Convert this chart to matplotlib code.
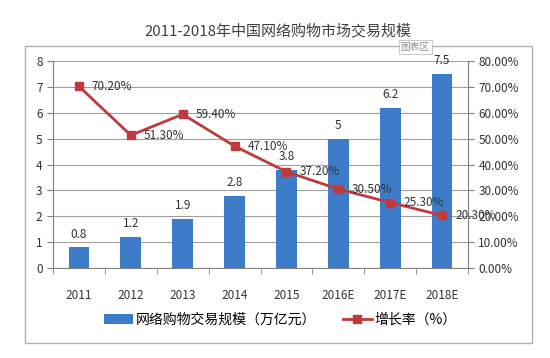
import numpy as np
import matplotlib.pyplot as plt
from matplotlib.patches import Rectangle

plt.rcParams['font.family'] = ['Noto Sans CJK SC', 'DejaVu Sans']

years = ['2011', '2012', '2013', '2014', '2015', '2016E', '2017E', '2018E']
scale = [0.8, 1.2, 1.9, 2.8, 3.8, 5, 6.2, 7.5]          # 万亿元
growth = [70.2, 51.3, 59.4, 47.1, 37.2, 30.5, 25.3, 20.3]  # %

fig = plt.figure(figsize=(5.5, 3.58), dpi=100)
ax = fig.add_axes([0.0964, 0.2514, 0.7545, 0.5782])
x = np.arange(len(years))

bar_color = '#3d7cc9'
line_color = '#c0393b'
txt = '#333333'

ax.set_axisbelow(True)
ax.grid(axis='y', color='#a0a0a0', linewidth=0.8)
ax.bar(x, scale, width=0.4, color=bar_color, label='网络购物交易规模（万亿元）', zorder=2)
for xi, v in zip(x, scale):
    ax.text(xi, v + 0.25, f'{v:g}', ha='center', va='bottom', fontsize=8.5, color=txt)

ax.set_xlim(-0.5, len(years) - 0.5)
ax.set_ylim(0, 8)
ax.set_yticks(range(0, 9))
ax.set_xticks(x)
ax.set_xticklabels(years)
ax.set_xticks(np.arange(-0.5, len(years)), minor=True)
ax.tick_params(axis='x', which='major', length=0, pad=15)
ax.tick_params(axis='x', which='minor', length=4, color='#808080')
ax.tick_params(axis='y', length=4, color='#808080')
ax.tick_params(labelsize=8.5, labelcolor=txt)
for s in ['top', 'right']:
    ax.spines[s].set_visible(False)
for s in ['left', 'bottom']:
    ax.spines[s].set_color('#808080')

ax2 = ax.twinx()
ax2.plot(x, growth, color=line_color, linewidth=2, marker='s', markersize=6,
         label='增长率（%）', zorder=3)
for xi, v in zip(x, growth):
    ax2.text(xi + 0.25, v, f'{v:.2f}%', ha='left', va='center', fontsize=8.5, color=txt)
ax2.set_ylim(0, 80)
ax2.set_yticks(range(0, 81, 10))
ax2.set_yticklabels([f'{v:.2f}%' for v in range(0, 81, 10)])
ax2.tick_params(axis='y', length=4, color='#808080', labelsize=8.5, labelcolor=txt)
for s in ['top', 'left', 'bottom']:
    ax2.spines[s].set_visible(False)
ax2.spines['right'].set_color('#808080')

h1, l1 = ax.get_legend_handles_labels()
h2, l2 = ax2.get_legend_handles_labels()
fig.legend(h1 + h2, l1 + l2, loc='center', bbox_to_anchor=(0.51, 0.106), ncol=2,
           frameon=False, fontsize=10, handlelength=2.1, columnspacing=1.9,
           handletextpad=0.2)

fig.text(0.505, 0.913, '2011-2018年中国网络购物市场交易规模', ha='center', va='center',
         fontsize=10.8, color='#404040')
fig.patches.append(Rectangle((25 / 550, 1 - 343 / 358), 507 / 550, 297 / 358,
                             transform=fig.transFigure, fill=False,
                             edgecolor='#b0b0b0', linewidth=1))
fig.text(0.755, 0.868, '图表区', ha='center', va='center', fontsize=7, color='#909090',
         bbox=dict(facecolor='white', edgecolor='#c0c0c0', pad=1.5, linewidth=0.6))

fig.savefig('out.png', dpi=100)
